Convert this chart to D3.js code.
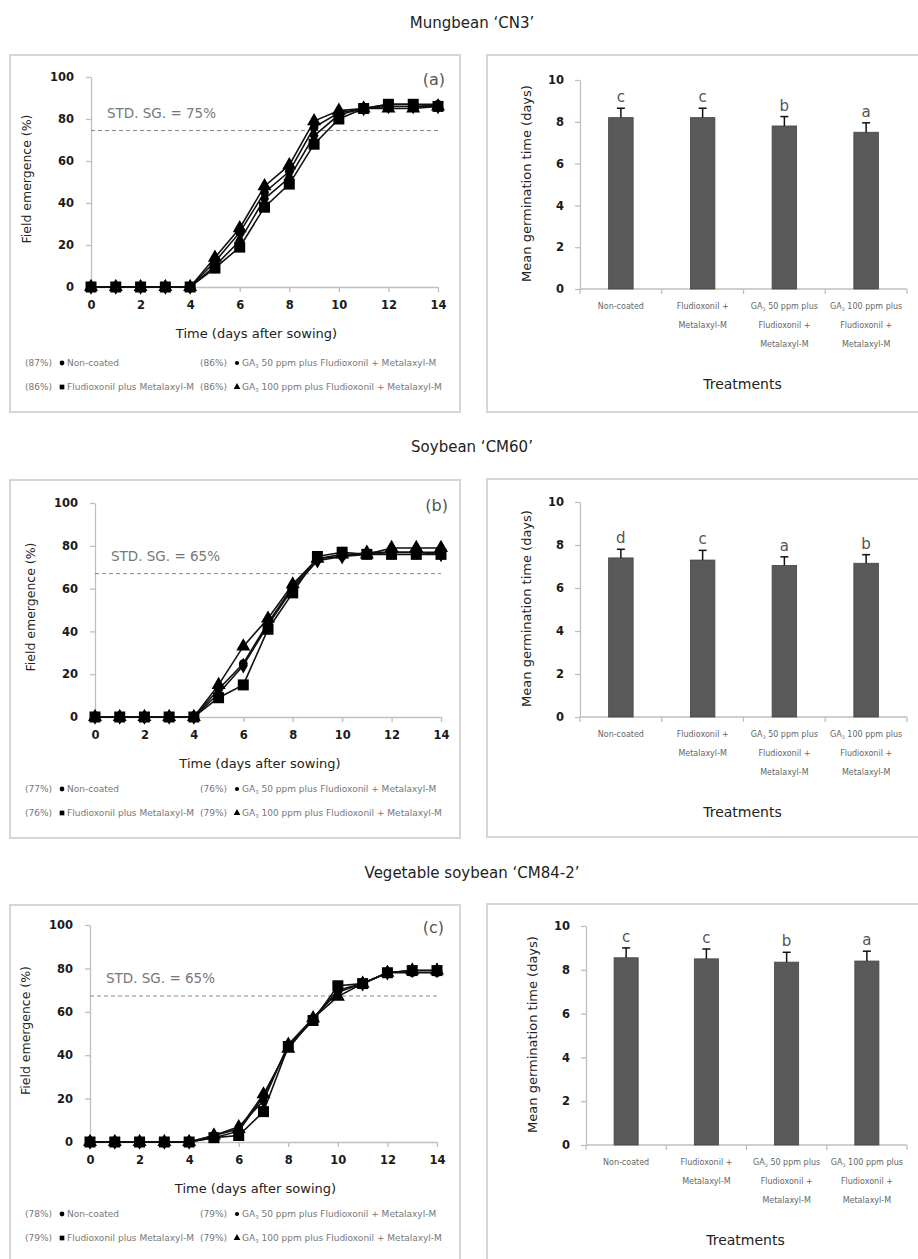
<!DOCTYPE html>
<html>
<head>
<meta charset="utf-8">
<script src="https://cdn.jsdelivr.net/npm/d3@7"></script>
<style>
  body { margin: 0; background: #fff; }
  svg { display: block; }
  text { font-family: "DejaVu Sans", sans-serif; }
</style>
</head>
<body>
<svg id="chart" width="918" height="1259"></svg>
<script>
// ---- data ----
const days = [0, 1, 2, 3, 4, 5, 6, 7, 8, 9, 10, 11, 12, 13, 14];

const cropTitles = ["Mungbean \u2018CN3\u2019", "Soybean \u2018CM60\u2019", "Vegetable soybean \u2018CM84-2\u2019"];
const panelTags = ["(a)", "(b)", "(c)"];
const stdLabels = ["STD. SG. = 75%", "STD. SG. = 65%", "STD. SG. = 65%"];
const stdLevels = [74.5, 67, 67.3];

// field emergence (%) per day: non-coated, fludioxonil, GA3 50, GA3 100
const cn3NonCoated = [0, 0, 0, 0, 0, 12, 26, 45, 55, 76, 83, 85, 87, 87, 87];
const cn3Fludi     = [0, 0, 0, 0, 0, 9, 19, 38, 49, 68, 80, 85, 87, 87, 86];
const cn3Ga50      = [0, 0, 0, 0, 0, 10, 22, 42, 52, 72, 82, 85, 86, 86, 86];
const cn3Ga100     = [0, 0, 0, 0, 0, 14, 28, 48, 58, 79, 84, 85, 85, 85, 86];

const cm60NonCoated = [0, 0, 0, 0, 0, 13, 25, 44, 61, 74, 75, 76, 77, 77, 77];
const cm60Fludi     = [0, 0, 0, 0, 0, 9, 15, 41, 58, 75, 77, 76, 76, 76, 76];
const cm60Ga50      = [0, 0, 0, 0, 0, 11, 24, 43, 60, 73, 75, 77, 77, 77, 76];
const cm60Ga100     = [0, 0, 0, 0, 0, 15, 33, 46, 62, 74, 76, 76, 79, 79, 79];

const cm84NonCoated = [0, 0, 0, 0, 0, 2, 5, 21, 44, 57, 70, 73, 78, 78, 78];
const cm84Fludi     = [0, 0, 0, 0, 0, 2, 3, 14, 44, 56, 72, 73, 78, 79, 79];
const cm84Ga50      = [0, 0, 0, 0, 0, 3, 7, 19, 45, 57, 69, 73, 78, 79, 79];
const cm84Ga100     = [0, 0, 0, 0, 0, 3, 6, 22, 43, 57, 67, 73, 78, 79, 79];

const finalPct = [
  ["87%", "86%", "86%", "86%"],
  ["77%", "76%", "76%", "79%"],
  ["78%", "79%", "79%", "79%"]
];

// mean germination time (days)
const treatments = ["Non-coated", "Fludioxonil + Metalaxyl-M",
  "GA3 50 ppm plus Fludioxonil + Metalaxyl-M", "GA3 100 ppm plus Fludioxonil + Metalaxyl-M"];
const cn3Mgt = [8.2, 8.2, 7.8, 7.5];
const cn3Err = [0.45, 0.45, 0.45, 0.45];
const cn3Letters = ["c", "c", "b", "a"];
const cm60Mgt = [7.4, 7.3, 7.05, 7.15];
const cm60Err = [0.4, 0.45, 0.4, 0.4];
const cm60Letters = ["d", "c", "a", "b"];
const cm84Mgt = [8.55, 8.5, 8.35, 8.4];
const cm84Err = [0.45, 0.45, 0.45, 0.45];
const cm84Letters = ["c", "c", "b", "a"];

const emergence = [
  [cn3NonCoated, cn3Fludi, cn3Ga50, cn3Ga100],
  [cm60NonCoated, cm60Fludi, cm60Ga50, cm60Ga100],
  [cm84NonCoated, cm84Fludi, cm84Ga50, cm84Ga100]
];
const mgt = [cn3Mgt, cm60Mgt, cm84Mgt];
const mgtErr = [cn3Err, cm60Err, cm84Err];
const mgtLetters = [cn3Letters, cm60Letters, cm84Letters];

// ---- layout ----
const rows = [
  { title: 23, boxL: [10, 55, 450, 357], plotL: [91, 438, 77, 287], boxR: [487, 55, 440, 357], plotR: [580, 907, 80, 289] },
  { title: 447, boxL: [10, 480, 450, 358], plotL: [95, 441, 503, 717], boxR: [487, 479, 440, 358], plotR: [580, 907, 502, 717] },
  { title: 873, boxL: [10, 905, 450, 370], plotL: [90, 437, 925, 1142], boxR: [487, 904, 440, 370], plotR: [586, 907, 926, 1145] }
];

const axisGrey = "#bfbfbf";
const barFill = "#595959";
const svg = d3.select("#chart");

const symbolFor = [
  d3.symbol().type(d3.symbolCircle).size(60),
  d3.symbol().type(d3.symbolSquare).size(121),
  d3.symbol().type(d3.symbolDiamond).size(70),
  d3.symbol().type(d3.symbolTriangle).size(85)
];
const legendSymbol = [
  d3.symbol().type(d3.symbolCircle).size(18),
  d3.symbol().type(d3.symbolSquare).size(22),
  d3.symbol().type(d3.symbolCircle).size(14),
  d3.symbol().type(d3.symbolTriangle).size(20)
];

// writes a label, turning "GA3" into GA with subscript 3
function gaText(sel, str) {
  const parts = str.split("GA3");
  parts.forEach((p, i) => {
    if (i > 0) {
      sel.append("tspan").text("GA");
      sel.append("tspan").attr("font-size", "0.6em").attr("dy", 2).text("3");
      sel.append("tspan").attr("dy", -2).text(p);
    } else if (p) {
      sel.append("tspan").text(p);
    }
  });
}

function styleAxis(g) {
  g.selectAll(".domain").attr("stroke", axisGrey).attr("stroke-width", 1.3);
  g.selectAll(".tick line").attr("stroke", axisGrey).attr("stroke-width", 1.3);
  g.selectAll(".tick text").attr("fill", "#1a1a1a").attr("font-size", 11.5).attr("font-weight", "bold")
    .attr("font-family", "DejaVu Sans, sans-serif");
}

rows.forEach((row, r) => {
  // section title
  svg.append("text").attr("x", 472).attr("y", row.title + 5)
    .attr("text-anchor", "middle").attr("font-size", 15).attr("fill", "#222")
    .text(cropTitles[r]);

  // boxes
  [row.boxL, row.boxR].forEach(b => {
    svg.append("rect").attr("x", b[0]).attr("y", b[1]).attr("width", b[2]).attr("height", b[3])
      .attr("fill", "none").attr("stroke", "#d6d6d6").attr("stroke-width", 2);
  });

  // ---- line chart ----
  const [x0, x1, yT, yB] = row.plotL;
  const x = d3.scaleLinear().domain([0, 14]).range([x0, x1]);
  const y = d3.scaleLinear().domain([0, 100]).range([yB, yT]);
  const g = svg.append("g");

  g.append("g").attr("transform", `translate(0,${yB})`)
    .call(d3.axisBottom(x).tickValues([0, 2, 4, 6, 8, 10, 12, 14]).tickSize(5).tickSizeOuter(0).tickPadding(9))
    .call(styleAxis);
  g.append("g").attr("transform", `translate(${x0},0)`)
    .call(d3.axisLeft(y).tickValues([0, 20, 40, 60, 80, 100]).tickSize(5).tickSizeOuter(0).tickPadding(12))
    .call(styleAxis);

  // standard line
  g.append("line").attr("x1", x0).attr("x2", x1)
    .attr("y1", y(stdLevels[r])).attr("y2", y(stdLevels[r]))
    .attr("stroke", "#888").attr("stroke-width", 1).attr("stroke-dasharray", "4,3");
  g.append("text").attr("x", x0 + 16).attr("y", y(stdLevels[r]) - 13)
    .attr("font-size", 13.5).attr("fill", "#777").text(stdLabels[r]);
  g.append("text").attr("x", x1 + 7).attr("y", yT + 8).attr("text-anchor", "end")
    .attr("font-size", 16).attr("fill", "#555").text(panelTags[r]);

  const line = d3.line().x((d, i) => x(days[i])).y(d => y(d));
  const order = [0, 2, 3, 1];
  order.forEach(s => {
    g.append("path").datum(emergence[r][s]).attr("d", line)
      .attr("fill", "none").attr("stroke", "#111").attr("stroke-width", 1.6);
  });
  order.forEach(s => {
    g.selectAll(null).data(emergence[r][s]).join("path")
      .attr("transform", (d, i) => `translate(${x(days[i])},${y(d)})`)
      .attr("d", symbolFor[s]()).attr("fill", "#000");
  });

  // axis titles
  g.append("text").attr("x", (x0 + x1) / 2 - 8).attr("y", yB + 51).attr("text-anchor", "middle")
    .attr("font-size", 13).attr("fill", "#222").text("Time (days after sowing)");
  g.append("text").attr("transform", `translate(${x0 - 60},${(yT + yB) / 2 - 3}) rotate(-90)`)
    .attr("text-anchor", "middle").attr("font-size", 12.5).attr("fill", "#222")
    .text("Field emergence (%)");

  // legend (2 x 2)
  const legendCells = [
    { s: 0, col: 0, row: 0 }, { s: 2, col: 1, row: 0 },
    { s: 1, col: 0, row: 1 }, { s: 3, col: 1, row: 1 }
  ];
  const names = ["Non-coated", "Fludioxonil plus Metalaxyl-M",
    "GA3 50 ppm plus Fludioxonil + Metalaxyl-M", "GA3 100 ppm plus Fludioxonil + Metalaxyl-M"];
  legendCells.forEach(c => {
    const lx = c.col === 0 ? 25 : 200;
    const ly = yB + (r === 0 ? 79 : 75) + c.row * 24;
    svg.append("text").attr("x", lx).attr("y", ly).attr("font-size", 9).attr("fill", "#777")
      .text(`(${finalPct[r][c.s]})`);
    svg.append("path").attr("transform", `translate(${lx + 37},${ly - 3})`)
      .attr("d", legendSymbol[c.s]()).attr("fill", "#000");
    const t = svg.append("text").attr("x", lx + 42).attr("y", ly).attr("font-size", 9).attr("fill", "#777");
    gaText(t, names[c.s]);
  });

  // ---- bar chart ----
  const [bx0, bx1, byT, byB] = row.plotR;
  const xb = d3.scaleBand().domain(treatments).range([bx0, bx1]).paddingInner(0.7).paddingOuter(0.35);
  const yb = d3.scaleLinear().domain([0, 10]).range([byB, byT]);
  const gb = svg.append("g");

  gb.append("g").attr("transform", `translate(${bx0},0)`)
    .call(d3.axisLeft(yb).tickValues([0, 2, 4, 6, 8, 10]).tickSize(5).tickSizeOuter(0).tickPadding(11))
    .call(styleAxis);
  const xAxisG = gb.append("g").attr("transform", `translate(0,${byB})`);
  xAxisG.append("line").attr("x1", bx0).attr("x2", bx1).attr("stroke", axisGrey).attr("stroke-width", 1.3);
  xAxisG.selectAll(null).data(d3.range(treatments.length + 1)).join("line")
    .attr("x1", i => bx0 + i * xb.step()).attr("x2", i => bx0 + i * xb.step())
    .attr("y1", 0).attr("y2", 5).attr("stroke", axisGrey).attr("stroke-width", 1.3);

  gb.selectAll(null).data(mgt[r]).join("rect")
    .attr("x", (d, i) => xb(treatments[i])).attr("width", xb.bandwidth())
    .attr("y", d => yb(d)).attr("height", d => byB - yb(d))
    .attr("fill", barFill).attr("stroke", "#444").attr("stroke-width", 0.8);

  const cx = i => xb(treatments[i]) + xb.bandwidth() / 2;
  gb.selectAll(null).data(mgt[r]).join("line")
    .attr("x1", (d, i) => cx(i)).attr("x2", (d, i) => cx(i))
    .attr("y1", d => yb(d)).attr("y2", (d, i) => yb(d + mgtErr[r][i]))
    .attr("stroke", "#111").attr("stroke-width", 1.5);
  gb.selectAll(null).data(mgt[r]).join("line")
    .attr("x1", (d, i) => cx(i) - 4).attr("x2", (d, i) => cx(i) + 4)
    .attr("y1", (d, i) => yb(d + mgtErr[r][i])).attr("y2", (d, i) => yb(d + mgtErr[r][i]))
    .attr("stroke", "#111").attr("stroke-width", 1.5);
  gb.selectAll(null).data(mgt[r]).join("text")
    .attr("x", (d, i) => cx(i)).attr("y", (d, i) => yb(d + mgtErr[r][i]) - 6)
    .attr("text-anchor", "middle").attr("font-size", 15).attr("fill", "#555")
    .text((d, i) => mgtLetters[r][i]);

  const catLines = [["Non-coated"], ["Fludioxonil +", "Metalaxyl-M"],
    ["GA3 50 ppm plus", "Fludioxonil +", "Metalaxyl-M"], ["GA3 100 ppm plus", "Fludioxonil +", "Metalaxyl-M"]];
  treatments.forEach((tr, i) => {
    catLines[i].forEach((ln, k) => {
      const t = gb.append("text").attr("x", cx(i)).attr("y", byB + 20 + k * 19)
        .attr("text-anchor", "middle").attr("font-size", 8).attr("fill", "#666");
      gaText(t, ln);
    });
  });

  gb.append("text").attr("x", (bx0 + bx1) / 2 - 1).attr("y", byB + 100).attr("text-anchor", "middle")
    .attr("font-size", 14).attr("fill", "#222").text("Treatments");
  gb.append("text").attr("transform", `translate(${bx0 - 49},${(byT + byB) / 2 - 1}) rotate(-90)`)
    .attr("text-anchor", "middle").attr("font-size", 13).attr("fill", "#222")
    .text("Mean germination time (days)");
});
</script>
</body>
</html>
